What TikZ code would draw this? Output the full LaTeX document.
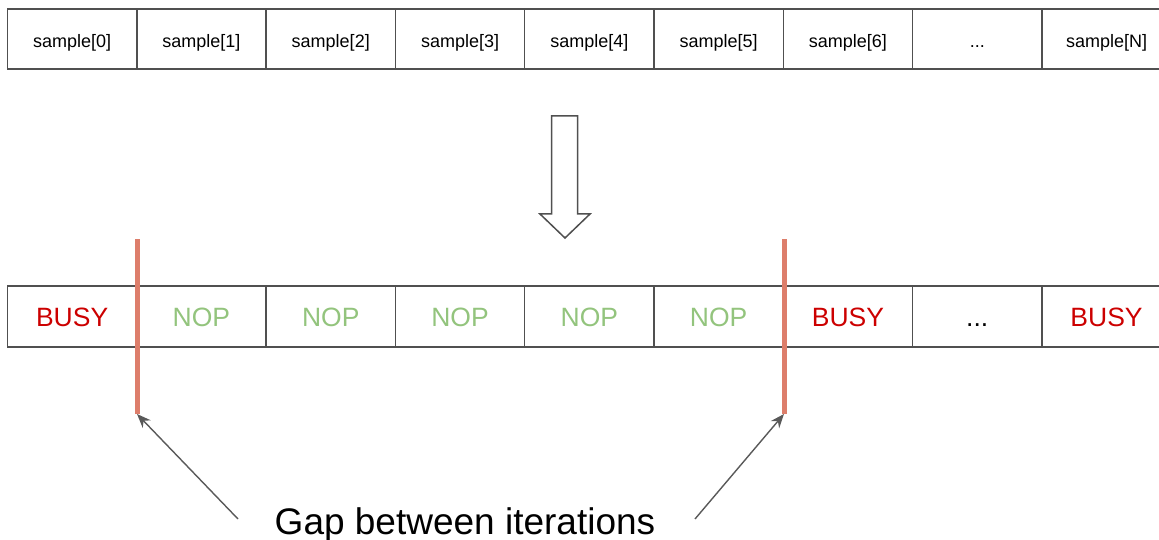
\documentclass[tikz,border=0pt]{standalone}
\usepackage{fontspec}
\setmainfont{Liberation Sans}
\usetikzlibrary{arrows.meta}
\definecolor{boxline}{HTML}{505050}
\definecolor{busyred}{HTML}{CC0000}
\definecolor{nopgreen}{HTML}{93C47D}
\definecolor{gapline}{HTML}{DD7E6B}
\definecolor{pointer}{HTML}{595959}
% three dots as plain text (kept out of \foreach's range syntax)
\newcommand\cellDots{...}
\tikzset{
  cell/.style={draw=boxline, line width=1.5pt, rectangle, minimum width=129.3pt,
    inner sep=0pt, outer sep=0pt, anchor=north west, text depth=0pt},
  topcell/.style={cell, minimum height=60pt, text height=17.4pt, font=\fontsize{18}{20}\selectfont},
  botcell/.style={cell, minimum height=61pt, text height=19pt, font=\fontsize{26.5}{30}\selectfont},
  busy/.style={text=busyred},
  nop/.style={text=nopgreen},
  plain/.style={text=black},
  gapbar/.style={draw=gapline, line width=5pt},
  pointerline/.style={draw=pointer, line width=1.4pt, -{Stealth[length=14pt,width=11pt]}},
  bigarrow/.style={draw=boxline, line width=1.5pt, fill=white, line join=miter}
}
\begin{document}
\begin{tikzpicture}[x=1pt, y=-1pt]
  \useasboundingbox (0,0) rectangle (1159,540);

  % input samples
  \foreach \lbl [count=\i from 0] in {sample[0],sample[1],sample[2],sample[3],sample[4],sample[5],sample[6],\cellDots,sample[N]}
    \node[topcell] (t\i) at (7.5+129.3*\i, 9) {\lbl};

  % resulting schedule
  \foreach \lbl/\sty [count=\i from 0] in {BUSY/busy,NOP/nop,NOP/nop,NOP/nop,NOP/nop,NOP/nop,BUSY/busy,\cellDots/plain,BUSY/busy}
    \node[botcell, \sty] (b\i) at (7.5+129.3*\i, 286) {\lbl};

  % hollow transformation arrow
  \draw[bigarrow] (551.7,116) -- (577.7,116) -- (577.7,214) -- (590,214) -- (565,238)
    -- (540,214) -- (551.7,214) -- cycle;

  % iteration gaps
  \coordinate (g1top) at (137,239);
  \coordinate (g1bot) at (137,414);
  \coordinate (g2top) at (784,239);
  \coordinate (g2bot) at (784,414);
  \draw[gapbar] (g1top) -- (g1bot);
  \draw[gapbar] (g2top) -- (g2bot);

  % caption and pointers
  \node[anchor=base, font=\fontsize{37}{40}\selectfont, inner sep=0pt] (cap) at (465,534) {Gap between iterations};
  \coordinate (p1) at (238,519);
  \coordinate (p2) at (695,519);
  \draw[pointerline] (p1) -- (g1bot);
  \draw[pointerline] (p2) -- (g2bot);
\end{tikzpicture}
\end{document}
